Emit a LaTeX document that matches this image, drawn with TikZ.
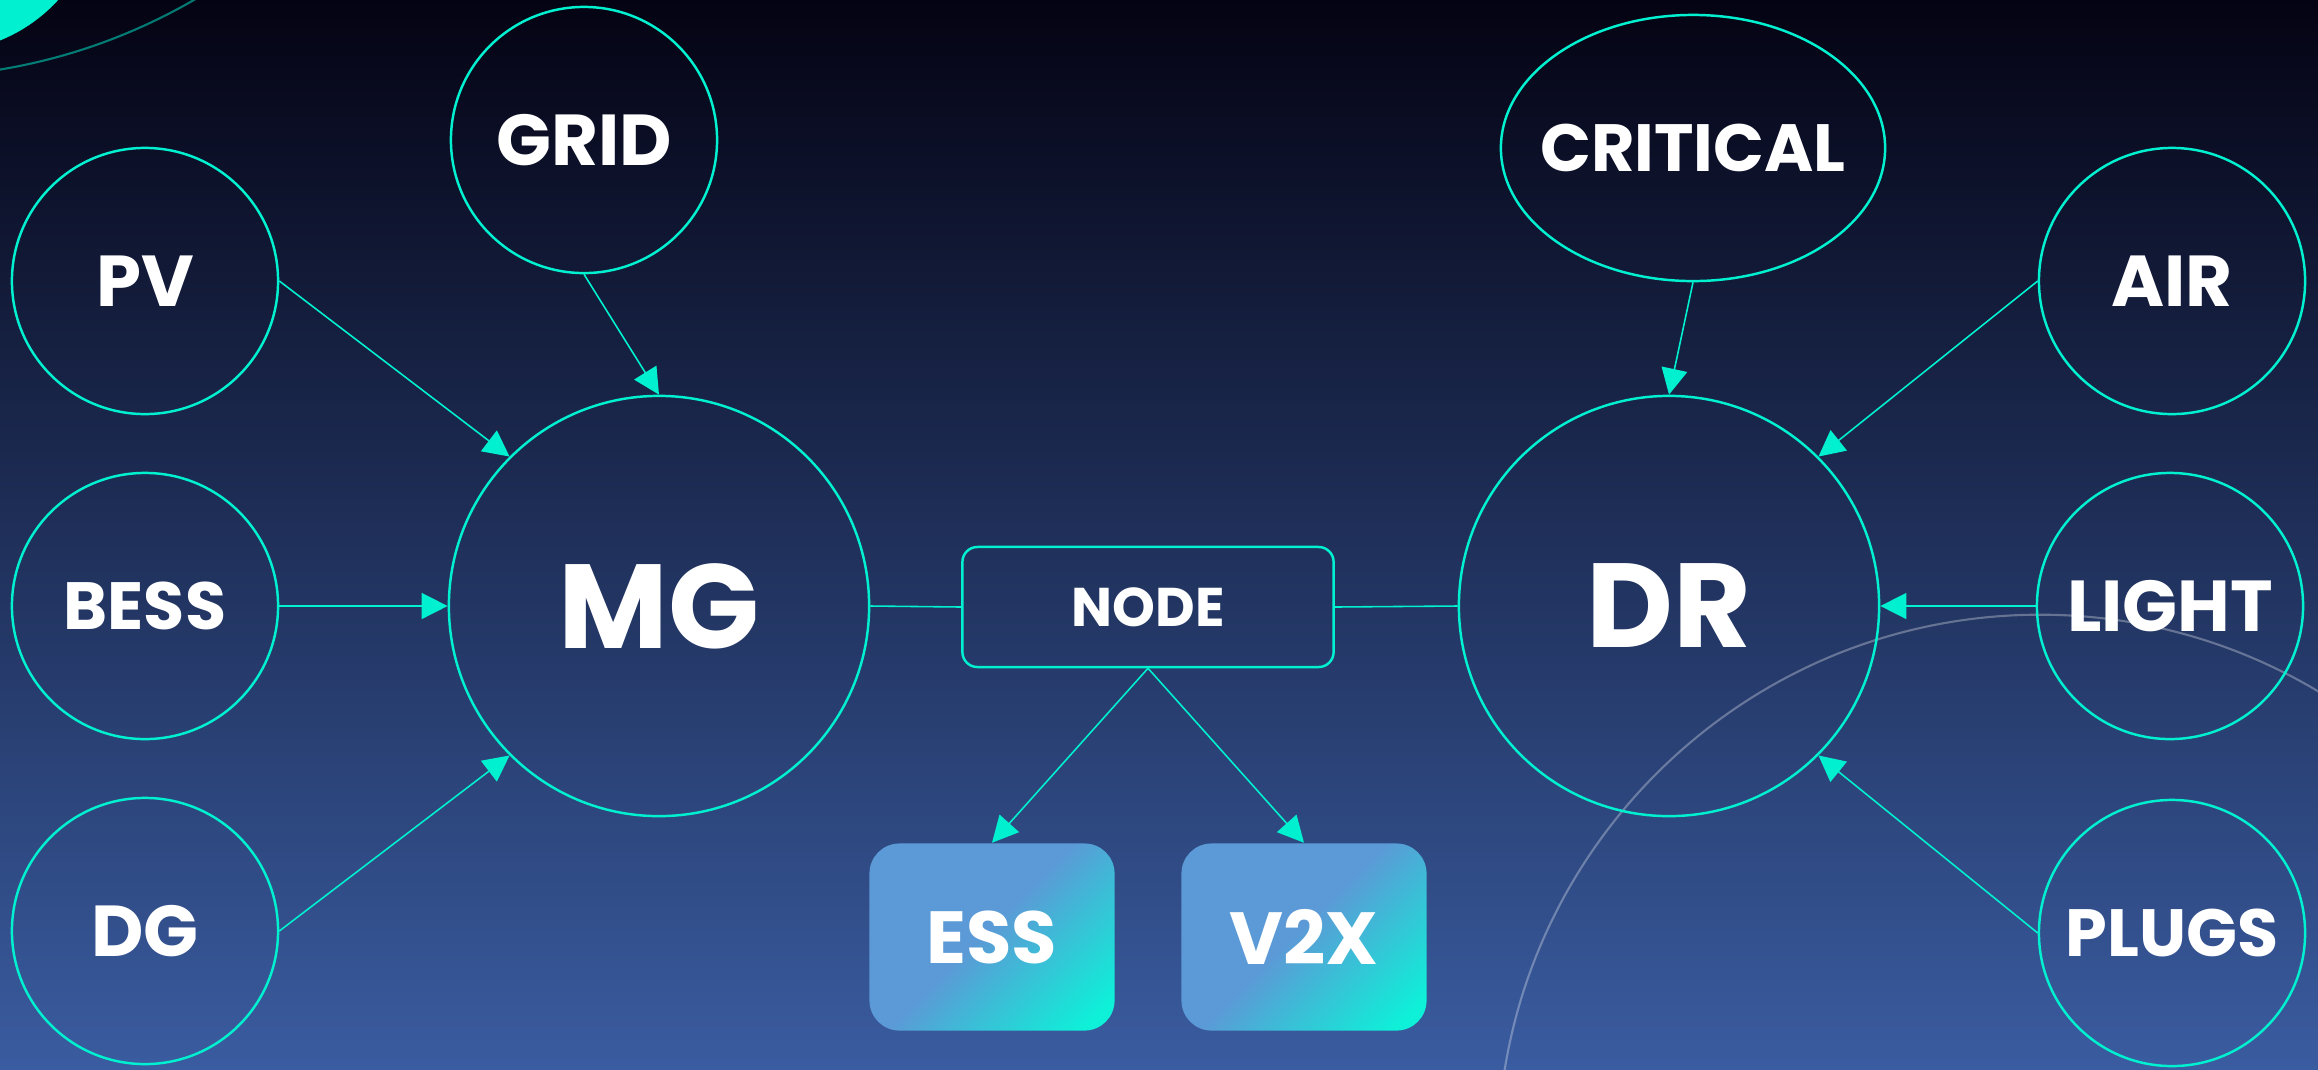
\documentclass[tikz,border=0pt]{standalone}
\usepackage{fontspec}
\setmainfont{Poppins}
\usetikzlibrary{shapes.geometric,arrows.meta}
\definecolor{cy}{RGB}{0,240,208}
\definecolor{bgtop}{RGB}{4,3,19}
\definecolor{bgmid}{RGB}{26,34,73}
\definecolor{bgbot}{RGB}{58,92,160}
\definecolor{tileblue}{RGB}{91,154,214}
\definecolor{tilecyan}{RGB}{14,240,216}
\pgfdeclarehorizontalshading{tilegrad}{100bp}{color(0bp)=(tileblue); color(48bp)=(tileblue); color(80bp)=(tilecyan); color(100bp)=(tilecyan)}
\tikzset{
  ring/.style={circle, draw=cy, line width=0.7pt, minimum size=2.66cm, inner sep=0pt, text=white, font=\bfseries\fontsize{20.5}{22}\selectfont},
  ringsm/.style={ring, font=\bfseries\fontsize{19}{21}\selectfont},
  bigring/.style={ring, minimum size=4.2cm, font=\bfseries\fontsize{34}{36}\selectfont},
  link/.style={draw=cy, line width=0.45pt},
  arr/.style={link, -{Triangle[length=0.26cm, width=0.26cm]}},
  tile/.style={rounded corners=0.3cm, minimum width=2.45cm, minimum height=1.87cm, inner sep=0pt, shading=tilegrad, shading angle=-45, text=white, font=\bfseries\fontsize{21}{23}\selectfont},
  hubbox/.style={draw=cy, line width=0.7pt, rounded corners=0.15cm, minimum width=3.71cm, minimum height=1.2cm, inner sep=0pt, text=white, font=\bfseries\fontsize{15.5}{17}\selectfont},
  oval/.style={ellipse, draw=cy, line width=0.7pt, minimum width=3.84cm, minimum height=2.66cm, inner sep=0pt, text=white, font=\bfseries\fontsize{19}{21}\selectfont}
}
\begin{document}
\begin{tikzpicture}[x=0.01cm, y=-0.01cm]
\useasboundingbox (0,0) rectangle (2318,1069);
\clip (0,0) rectangle (2318,1069);
\shade[top color=bgtop, middle color=bgmid, bottom color=bgbot] (0,0) rectangle (2318,1069);
% decorations
\fill[cy] (-60,-108) circle (1.6cm);
\draw[cy, opacity=0.5, line width=0.6pt] (-95,-500) circle (5.77cm);
\draw[white, opacity=0.3, line width=0.6pt] (2040,1157) circle (5.42cm);
% nodes
\node[ring] (grid) at (584,140) {GRID};
\node[ring] (pv) at (145,281) {PV};
\node[ringsm] (bess) at (145,606) {BESS};
\node[ring] (dg) at (145,931) {DG};
\node[bigring] (mg) at (659,606) {MG};
\node[hubbox] (hub) at (1148,607) {NODE};
\node[bigring] (dr) at (1669,606) {DR};
\node[oval] (crit) at (1693,148) {\makebox[0pt]{CRITICAL}};
\node[ring] (air) at (2172,281) {AIR};
\node[ring] (light) at (2170,606) {LIGHT};
\node[ringsm] (plugs) at (2172,933) {PLUGS};
\node[tile] (ess) at (992,937) {ESS};
\node[tile] (v2x) at (1304,937) {V2X};
% connectors
\draw[arr] (pv.east) -- (mg.north west);
\draw[arr] (grid.south) -- (mg.north);
\draw[arr] (bess.east) -- (mg.west);
\draw[arr] (dg.east) -- (mg.south west);
\draw[link] (mg.east) -- (hub.west);
\draw[link] (hub.east) -- (dr.west);
\draw[arr] (hub.south) -- (ess.north);
\draw[arr] (hub.south) -- (v2x.north);
\draw[arr] (crit.south) -- (dr.north);
\draw[arr] (air.west) -- (dr.north east);
\draw[arr] (light.west) -- (dr.east);
\draw[arr] (plugs.west) -- (dr.south east);
\end{tikzpicture}
\end{document}
